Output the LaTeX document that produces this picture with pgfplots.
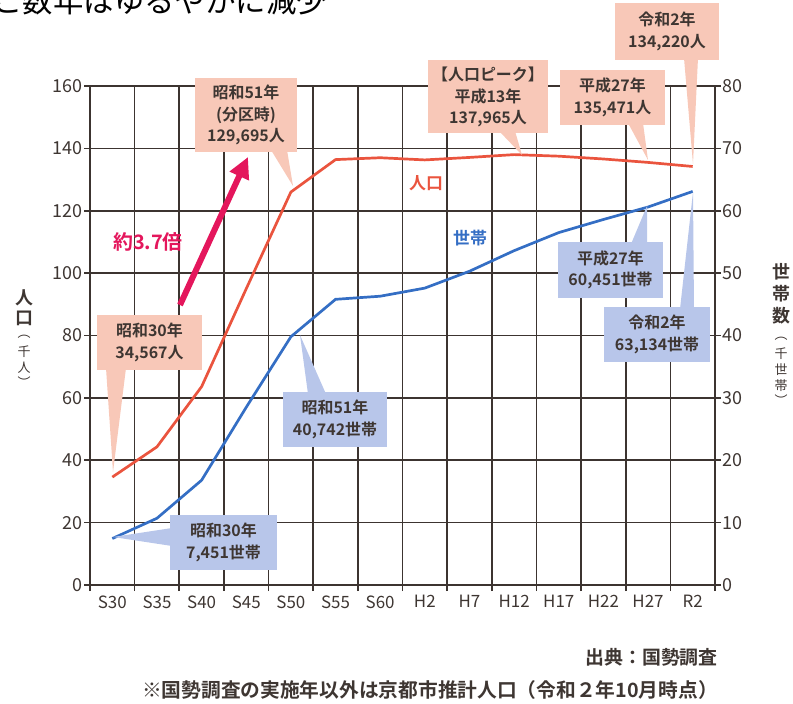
\documentclass[border=0pt]{standalone}
\usepackage{fontspec}
\usepackage{pgfplots}
\pgfplotsset{compat=1.18}
\usetikzlibrary{arrows.meta}
\setmainfont{Noto Sans CJK JP}[BoldFont={Noto Sans CJK JP Bold}]
\definecolor{popred}{RGB}{234,84,62}
\definecolor{hhblue}{RGB}{52,110,196}
\definecolor{salmon}{RGB}{248,200,184}
\definecolor{lblue}{RGB}{184,198,234}
\definecolor{gridc}{RGB}{60,52,48}
\definecolor{txt}{RGB}{62,54,50}
\definecolor{mag}{RGB}{228,22,92}
\tikzset{co/.style={align=center, text=txt, font=\fontsize{16}{21.5}\selectfont\bfseries, inner sep=0pt}}
\begin{document}
\begin{tikzpicture}
\useasboundingbox (0,0) rectangle (793bp,-704bp);
\begin{scope}
\clip (0,0) rectangle (793bp,-704bp);
\begin{axis}[
  at={(90bp,-585bp)}, anchor=south west, scale only axis,
  width=625bp, height=499bp,
  xmin=-0.5, xmax=13.5, ymin=0, ymax=160,
  xtick={0,...,13},
  xticklabels={S30,S35,S40,S45,S50,S55,S60,H2,H7,H12,H17,H22,H27,R2},
  minor xtick={-0.5,0.5,1.5,2.5,3.5,4.5,5.5,6.5,7.5,8.5,9.5,10.5,11.5,12.5,13.5},
  every major x tick/.append style={draw=none},
  xminorgrids=true, ymajorgrids=true,
  ytick={0,20,...,160},
  tick pos=left, tick align=outside,
  major tick length=6bp, minor tick length=6bp,
  axis line style={gridc, line width=1.7bp},
  grid style={gridc, line width=1.7bp},
  minor grid style={gridc, line width=1.7bp},
  tick style={gridc, line width=1.7bp},
  every minor tick/.append style={gridc, line width=1.7bp},
  /pgf/number format/assume math mode=true,
  xticklabel style={font=\fontsize{17}{17}\selectfont, text=txt, yshift=-1bp},
  yticklabel style={font=\fontsize{18}{18}\selectfont, text=txt, xshift=2bp},
]
\addplot[popred, line width=2.7bp] coordinates {
(0,34.6) (1,44.3) (2,63.6) (3,95.0) (4,126.0) (5,136.4) (6,137.0) (7,136.3)
(8,137.1) (9,138.0) (10,137.5) (11,136.6) (12,135.5) (13,134.2)};
\end{axis}
\begin{axis}[
  at={(90bp,-585bp)}, anchor=south west, scale only axis,
  width=625bp, height=499bp,
  xmin=-0.5, xmax=13.5, ymin=0, ymax=80,
  axis x line=none, axis y line*=right,
  ytick={0,10,...,80}, tick align=outside, major tick length=6bp,
  axis line style={gridc, line width=1.7bp},
  tick style={gridc, line width=1.7bp},
  /pgf/number format/assume math mode=true,
  yticklabel style={font=\fontsize{18}{18}\selectfont, text=txt, xshift=-2bp},
]
\addplot[hhblue, line width=2.7bp] coordinates {
(0,7.45) (1,10.7) (2,16.8) (3,28.5) (4,39.8) (5,45.8) (6,46.3) (7,47.6)
(8,50.3) (9,53.6) (10,56.5) (11,58.6) (12,60.6) (13,63.1)};
\end{axis}
\begin{scope}[x=1bp,y=-1bp]
% title (cut at top, as in the reference)
\node[anchor=base east, inner sep=0pt, font=\fontsize{30.5}{30.5}\selectfont] at (327,12) {ここ数年はゆるやかに減少};
% magenta arrow
\draw[mag, line width=6bp, -{Triangle[length=21bp,width=20bp]}] (180,305) -- (248,157);
\node[text=mag, font=\fontsize{20}{20}\selectfont\bfseries, inner sep=0pt] at (148,242) {約3.7倍};
\node[text=popred, font=\fontsize{17}{17}\selectfont\bfseries, inner sep=0pt] at (426,183) {人口};
\node[text=hhblue, font=\fontsize{17}{17}\selectfont\bfseries, inner sep=0pt] at (470,238) {世帯};
% callouts population
\fill[salmon] (195,78) rectangle (297,152);
\fill[salmon] (271,150) -- (287,150) -- (293,186) -- cycle;
\node[co] at (246,115) {昭和51年\\(分区時)\\129,695人};
\fill[salmon] (428,60) rectangle (548,133);
\fill[salmon] (499,131) -- (515,131) -- (522,155) -- cycle;
\node[co] at (488,97) {【人口ピーク】\\平成13年\\137,965人};
\fill[salmon] (560,70) rectangle (665,125);
\fill[salmon] (628,123) -- (643,123) -- (648,160) -- cycle;
\node[co] at (612.5,97.5) {平成27年\\135,471人};
\fill[salmon] (615,3) rectangle (719,60);
\fill[salmon] (684,58) -- (698,58) -- (693,164) -- cycle;
\node[co] at (667,31.5) {令和2年\\134,220人};
\fill[salmon] (97,315) rectangle (202,370);
\fill[salmon] (106,368) -- (126,368) -- (113,472) -- cycle;
\node[co] at (149.5,342.5) {昭和30年\\34,567人};
% callouts households
\fill[lblue] (283,392) rectangle (387,447);
\fill[lblue] (308,394) -- (326,394) -- (300,335) -- cycle;
\node[co] at (335,419.5) {昭和51年\\40,742世帯};
\fill[lblue] (170,515) rectangle (277,570);
\fill[lblue] (172,528) -- (172,546) -- (113,537) -- cycle;
\node[co] at (223.5,542.5) {昭和30年\\7,451世帯};
\fill[lblue] (558,242) rectangle (663,298);
\fill[lblue] (631,244) -- (647,244) -- (647,206) -- cycle;
\node[co] at (610.5,270) {平成27年\\60,451世帯};
\fill[lblue] (604,307) rectangle (710,362);
\fill[lblue] (680,309) -- (694,309) -- (693,192) -- cycle;
\node[co] at (657,334.5) {令和2年\\63,134世帯};
% y labels
\begin{scope}[every node/.style={inner sep=0pt, text=txt}]
\node[font=\fontsize{18}{18}\selectfont\bfseries] at (24,298) {人};
\node[font=\fontsize{18}{18}\selectfont\bfseries] at (24,318) {口};
\node[font=\fontsize{13}{13}\selectfont] at (24,337) {︵};
\node[font=\fontsize{13}{13}\selectfont] at (24,352) {千};
\node[font=\fontsize{13}{13}\selectfont] at (24,368) {人};
\node[font=\fontsize{13}{13}\selectfont] at (24,382) {︶};
\node[font=\fontsize{18}{18}\selectfont\bfseries] at (781,272) {世};
\node[font=\fontsize{18}{18}\selectfont\bfseries] at (781,294) {帯};
\node[font=\fontsize{18}{18}\selectfont\bfseries] at (781,316) {数};
\node[font=\fontsize{13}{13}\selectfont] at (781,339) {︵};
\node[font=\fontsize{13}{13}\selectfont] at (781,354) {千};
\node[font=\fontsize{13}{13}\selectfont] at (781,370) {世};
\node[font=\fontsize{13}{13}\selectfont] at (781,386) {帯};
\node[font=\fontsize{13}{13}\selectfont] at (781,400) {︶};
% notes
\node[anchor=east, font=\fontsize{19}{19}\selectfont\bfseries] at (718,657) {出典：国勢調査};
\node[anchor=east, font=\fontsize{19.8}{19.8}\selectfont\bfseries] at (718,690) {※国勢調査の実施年以外は京都市推計人口（令和２年10月時点）};
\end{scope}
\end{scope}
\end{scope}
\end{tikzpicture}
\end{document}
